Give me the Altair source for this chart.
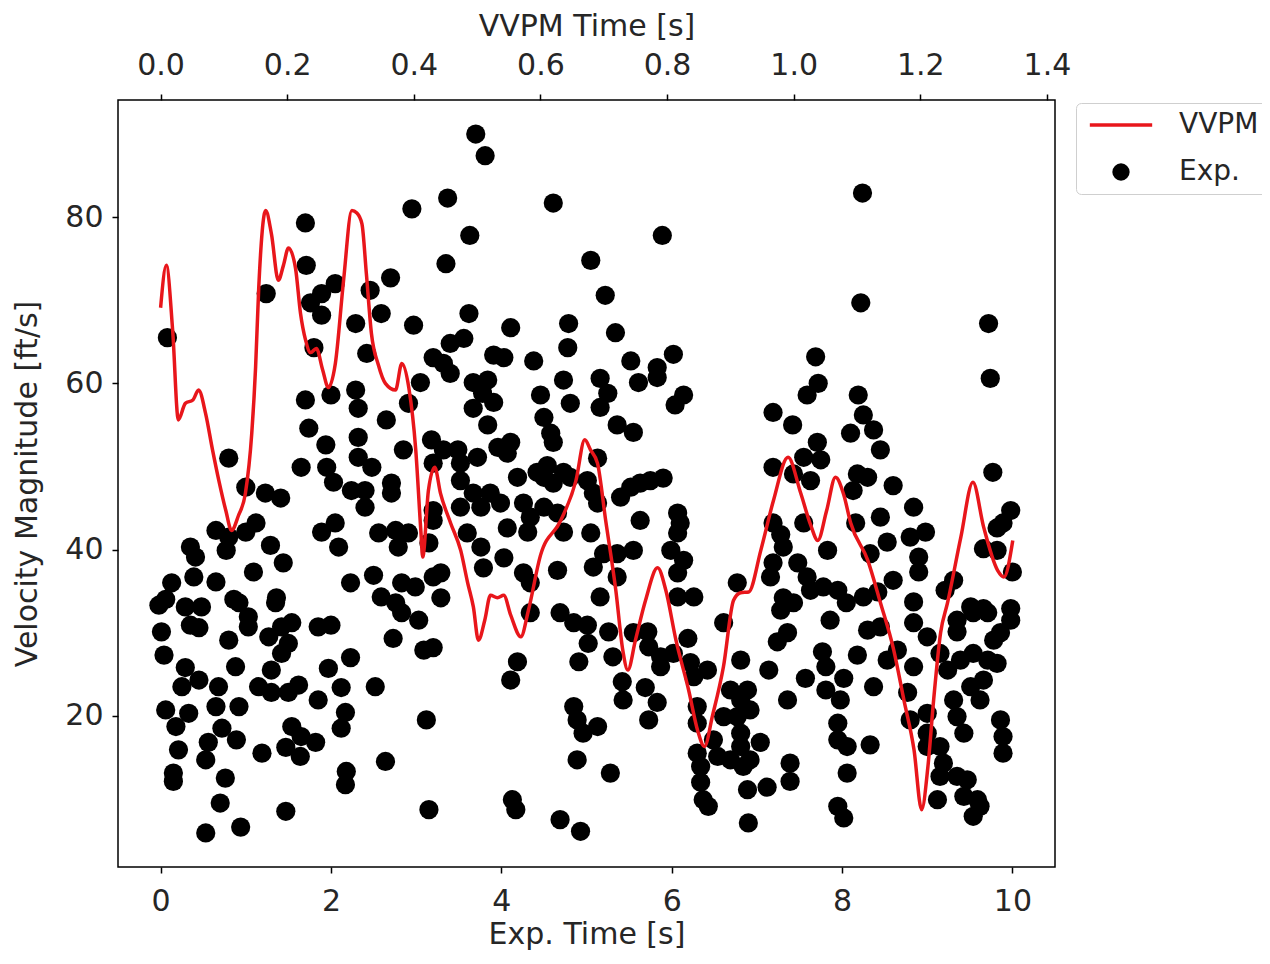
import altair as alt
import pandas as pd

# ---------------- Experimental points (Exp. Time [s], Velocity [ft/s]) ----------------
exp_low_left = [
    (0.01,30.1),(0.04,27.3),(0.29,25.8),(0.25,23.5),(0.45,24.3),(0.68,23.5),(0.06,20.7),(0.33,20.3),
    (0.18,18.7),(0.21,15.9),(0.56,16.8),(0.53,14.7),(0.65,21.1),(0.72,18.5),(0.92,21.1),(0.89,17.1),
    (1.19,15.5),(0.15,13.1),(0.15,12.1),(0.76,12.5),(0.70,9.5),(0.53,5.9),(0.94,6.6),(1.47,8.5),
    (-0.02,33.3),(0.29,33.1),(0.48,33.1),(0.35,30.9),(0.45,30.6),(0.80,29.1),(0.88,25.9),(0.92,33.6),
    (1.03,31.9),(1.03,30.7),(1.35,33.6),(1.27,29.5),(1.42,30.7),(1.54,31.2),(1.50,28.7),(1.42,27.5),
    (1.30,25.5),(1.15,23.5),(1.30,22.8),(1.50,22.8),(1.62,23.7),(1.85,30.7),(2.00,30.9),(1.85,21.9),
    (1.97,25.7),(2.23,27.0),(2.12,23.4),(2.17,20.4),(2.12,18.5),(1.54,18.7),(1.65,17.5),(1.82,16.8),
    (1.47,16.2),(1.64,15.1),(2.52,23.5),(2.64,14.5),(2.18,13.3),(2.17,11.7),(3.12,19.5),(3.15,8.7),
    (2.73,29.3),(3.09,27.9),(2.83,32.4),(3.03,31.5),
]
exp_top = [
    (0.08,65.5),(1.70,79.3),(1.71,74.2),(1.24,70.8),(2.05,72.0),(1.89,70.8),(1.76,69.7),(1.89,68.2),
    (2.29,67.2),(2.46,71.2),(2.70,72.7),(2.59,68.4),(2.97,67.0),(2.95,81.0),(1.80,64.3),(2.42,63.6),
    (3.20,63.1),(3.37,82.3),(3.35,74.4),(3.70,90.0),(3.81,87.4),(4.61,81.7),(3.63,77.8),(5.05,74.8),
    (5.89,77.8),(5.22,70.6),(3.62,68.4),(3.56,65.4),(3.40,64.8),(4.11,66.7),(4.79,67.2),(4.78,64.3),
    (5.34,66.1),(6.02,63.5),(5.52,62.7),(4.38,62.7),(8.24,82.9),(8.22,69.7),(9.72,67.2),(7.69,63.2),
]
exp_mid_left = [
    (1.70,58.0),(2.00,58.6),(2.29,59.2),(2.32,57.0),(1.74,54.6),(1.94,52.6),(2.32,53.5),(2.65,55.6),
    (1.65,49.9),(1.95,49.9),(2.03,48.1),(2.32,51.1),(2.48,49.9),(2.24,47.1),(2.40,47.1),(2.71,48.0),
    (2.71,46.8),(2.40,45.1),(2.85,52.0),(3.05,60.1),(2.91,57.6),(3.18,53.2),(0.80,51.0),(1.00,47.5),
    (1.23,46.8),(1.41,46.2),(0.65,42.3),(0.80,41.5),(1.12,43.2),(1.00,42.1),(0.35,40.3),(0.41,39.1),
    (0.77,39.9),(1.29,40.5),(1.44,38.4),(1.09,37.3),(0.65,36.1),(0.39,36.7),(0.13,36.0),(0.06,34.0),
    (0.86,34.0),(1.36,34.2),(1.89,42.1),(2.05,43.2),(2.09,40.3),(2.56,42.0),(2.76,42.3),(2.91,42.0),
    (2.79,40.3),(3.15,40.8),(2.23,36.0),(2.50,36.9),(2.83,36.0),(2.99,35.5),(3.20,36.7),(3.20,43.5),
    (2.59,34.3),(2.76,33.6),
]
exp_mid_center = [
    (3.32,62.4),(3.40,61.2),(3.91,63.4),(4.03,63.1),(3.67,60.1),(3.84,60.4),(3.78,58.8),(3.67,57.0),
    (3.91,57.7),(4.46,58.6),(4.73,60.4),(4.81,57.6),(5.16,60.6),(5.25,58.8),(5.16,57.1),(5.83,61.9),
    (5.61,60.1),(5.83,60.7),(6.14,58.6),(6.04,57.4),(4.50,55.9),(4.58,54.0),(4.61,52.9),(5.36,55.0),
    (5.55,54.1),(3.84,55.0),(3.32,52.0),(3.49,52.0),(3.52,50.4),(3.72,51.1),(3.96,52.3),(4.11,52.9),
    (4.07,51.6),(3.20,50.4),(4.19,48.7),(4.42,49.3),(4.54,50.1),(4.73,49.3),(4.81,48.7),(4.61,48.0),
    (4.50,48.7),(5.13,51.0),(5.01,48.3),(5.08,46.8),(5.13,45.6),(3.52,48.3),(3.67,46.8),(3.87,46.8),
    (3.99,45.6),(3.76,45.1),(3.52,45.1),(3.20,44.7),(4.26,45.6),(4.34,43.9),(4.50,45.1),(4.66,44.4),
    (4.07,42.6),(4.31,42.1),(4.73,42.1),(5.05,42.0),(3.60,42.0),(3.76,40.3),(4.03,39.0),(3.79,37.8),
    (3.29,37.2),(3.29,34.2),(4.26,37.2),(4.34,36.0),(4.66,37.5),(5.16,34.3),(5.20,39.5),(5.36,39.5),
    (5.08,37.9),(5.36,36.7),(5.55,39.9),(5.40,46.3),(5.52,47.5),(5.63,48.0),(5.75,48.3),(5.90,48.6),
    (5.63,43.5),(6.07,44.4),(6.10,43.2),(6.07,42.0),(5.99,39.9),(6.14,38.7),(6.07,37.2),(6.26,34.3),
    (6.07,34.3),(6.77,36.0),
]
exp_mid_right = [
    (7.72,60.0),(7.59,58.6),(7.19,56.5),(7.42,55.0),(8.19,58.6),(8.25,56.2),(8.37,54.4),(8.10,54.0),
    (8.45,52.0),(7.71,52.9),(7.55,51.1),(7.75,50.8),(7.19,49.9),(7.43,49.1),(7.63,48.3),(8.18,49.1),
    (8.30,48.7),(8.13,47.1),(8.60,47.7),(9.74,60.6),(9.77,49.3),(9.98,44.7),(9.89,43.2),(9.82,42.6),
    (9.66,40.1),(9.82,39.9),(10.0,37.3),(8.84,45.1),(8.98,42.1),(8.80,41.5),(8.45,43.9),(8.53,40.9),
    (8.16,43.2),(8.33,39.5),(8.90,39.1),(8.90,37.3),(8.60,36.3),(8.42,34.9),(8.84,33.7),(7.55,43.2),
    (7.19,43.2),(7.28,41.8),(7.83,39.9),(7.31,40.3),(7.19,38.4),(7.48,38.4),(7.16,36.7),(7.59,36.7),
    (7.63,35.1),(7.78,35.5),(7.95,35.1),(7.31,34.2),(7.43,33.6),(8.05,33.6),(8.25,34.3),(9.31,36.3),
    (9.21,35.1),(9.51,33.1),(9.66,32.9),(9.98,32.9),
]
exp_low_center = [
    (3.20,28.2),(4.19,26.5),(4.11,24.3),(4.34,32.4),(4.69,32.4),(4.85,31.2),(5.01,30.9),(5.02,28.7),
    (4.91,26.5),(5.26,30.1),(5.31,27.1),(5.55,30.0),(5.72,30.1),(5.73,28.3),(5.87,27.1),(5.87,25.9),
    (6.19,29.3),(6.22,26.4),(6.26,24.7),(6.02,27.5),(5.42,24.1),(5.43,21.9),(5.69,23.4),(5.83,21.6),
    (5.73,19.5),(4.85,21.1),(4.89,19.5),(4.96,17.9),(5.13,18.7),(4.89,14.7),(5.28,13.1),(4.13,9.9),
    (4.17,8.7),(4.69,7.5),(4.93,6.1),(6.61,31.2),(6.81,26.7),(6.42,25.5),(6.30,21.1),(6.30,19.1),
    (6.30,15.5),(6.34,13.9),(6.34,12.0),(6.37,9.9),(6.43,9.1),(6.54,15.1),(6.69,14.7),(6.69,23.1),
    (6.81,21.9),(6.77,19.9),(6.81,17.9),(6.81,16.3),(6.84,13.9),(6.89,11.1),(6.90,7.1),(6.61,19.9),
    (6.49,17.1),
]
exp_low_right = [
    (7.28,32.7),(7.86,31.5),(7.36,30.0),(7.24,28.9),(7.14,25.5),(7.57,24.5),(7.77,27.7),(7.81,25.9),
    (8.02,24.5),(7.81,23.1),(7.98,21.9),(8.18,27.3),(7.36,21.9),(6.89,23.1),(6.92,20.7),(7.04,16.8),
    (6.92,14.7),(7.12,11.4),(7.39,14.3),(7.39,12.1),(7.95,19.1),(7.95,17.1),(8.06,16.3),(8.06,13.1),
    (7.95,9.1),(8.02,7.7),(8.33,16.5),(8.30,30.3),(8.45,30.7),(8.84,31.2),(8.53,26.7),(8.37,23.5),
    (8.65,27.9),(8.84,25.9),(8.77,22.8),(8.80,19.5),(9.00,29.5),(9.15,27.5),(9.24,25.5),(9.39,26.7),
    (9.54,27.5),(9.71,26.7),(9.82,26.3),(9.66,24.3),(9.51,23.5),(9.62,21.9),(9.31,21.9),(9.35,19.9),
    (9.43,17.9),(9.00,20.3),(9.00,17.9),(9.00,16.3),(9.15,16.3),(9.19,14.3),(9.15,12.7),(9.12,9.9),
    (9.35,12.7),(9.47,12.3),(9.43,10.3),(9.59,9.9),(9.54,7.9),(9.62,9.1),(9.86,19.5),(9.89,17.5),
    (9.89,15.5),(9.98,31.5),(9.86,30.0),(9.78,29.1),(9.35,31.5),(9.54,32.4),(9.71,32.4),(9.35,30.1),
]

# ---------------- VVPM simulation line (VVPM Time [s], Velocity [ft/s]) ----------------
vvpm_time = [
    0.0,0.009,0.019,0.028,0.039,0.051,0.060,0.071,0.082,0.092,
    0.103,0.112,0.123,0.134,0.144,0.150,0.155,0.166,0.175,0.186,
    0.194,0.202,0.213,0.221,0.229,0.237,0.246,0.256,0.265,0.276,
    0.289,0.302,0.310,0.318,0.325,0.333,0.344,0.355,0.371,0.381,
    0.392,0.403,0.411,0.414,0.423,0.433,0.442,0.458,0.474,0.485,
    0.494,0.502,0.512,0.521,0.532,0.542,0.553,0.569,0.581,0.600,
    0.632,0.656,0.670,0.679,0.690,0.703,0.719,0.730,0.738,0.750,
    0.766,0.785,0.798,0.814,0.834,0.848,0.859,0.872,0.889,0.905,
    0.916,0.929,0.948,0.968,0.991,1.011,1.027,1.038,1.052,1.066,
    1.079,1.090,1.117,1.137,1.158,1.174,1.190,1.202,1.212,1.221,
    1.232,1.243,1.264,1.283,1.300,1.322,1.332,1.346,
]
vvpm_vel = [
    69.1,74.2,66.4,55.6,57.6,58.0,59.2,56.4,52.0,48.3,
    44.7,42.3,44.1,46.8,54.0,61.9,71.5,80.8,78.0,72.4,
    74.2,76.3,73.9,68.4,65.2,63.7,64.2,61.6,59.5,62.4,
    72.4,80.8,80.5,79.2,73.2,66.0,62.2,60.0,59.2,62.4,
    59.5,52.0,42.3,39.1,47.1,49.9,46.8,43.2,39.9,36.0,
    33.1,29.1,31.5,34.5,34.2,34.5,32.1,29.5,32.7,39.3,
    43.5,48.3,53.2,52.0,50.4,43.5,35.1,27.9,25.5,29.1,
    33.9,37.8,35.1,29.1,23.1,18.3,16.3,20.1,25.9,33.9,
    34.8,34.9,39.9,45.9,51.1,46.8,42.9,41.1,44.7,48.7,
    46.6,43.2,38.7,33.6,27.9,21.9,15.9,8.7,13.9,21.9,
    30.0,33.6,41.5,48.1,42.7,37.5,36.7,41.1,
]

series_names = ["VVPM", "Exp."]
series_colors = ["#e8161b", "#000000"]
exp_ticks = [0, 2, 4, 6, 8, 10]
vvpm_ticks = [0.0, 0.2, 0.4, 0.6, 0.8, 1.0, 1.2, 1.4]
vel_ticks = [20, 40, 60, 80]

exp_points = (exp_low_left + exp_top + exp_mid_left + exp_mid_center +
              exp_mid_right + exp_low_center + exp_low_right)
exp_df = pd.DataFrame(exp_points, columns=["t", "v"])
exp_df["series"] = "Exp."
line_df = pd.DataFrame({"t": vvpm_time, "v": vvpm_vel})
line_df["series"] = "VVPM"

FONT = "DejaVu Sans"
TXT = "#262626"
LINE_SYMBOL = "M-3.6,-0.19L3.6,-0.19L3.6,0.19L-3.6,0.19Z"

y_scale = alt.Scale(domain=[1.8, 94.1], nice=False, zero=False)
y_axis = alt.Axis(title="Velocity Magnitude [ft/s]", values=vel_ticks,
                  labelPadding=9, titlePadding=22)

legend = alt.Legend(
    title=None, orient="none", legendX=958, legendY=3,
    labelFont=FONT, labelFontSize=28, labelColor=TXT,
    symbolSize=300, symbolOffset=23, labelOffset=44, symbolStrokeWidth=0,
    symbolOpacity=1, padding=8, rowPadding=19,
    strokeColor="#cfcfcf", fillColor="white", cornerRadius=5,
)

points = alt.Chart(exp_df).mark_point(filled=True, size=370, opacity=1, strokeWidth=0).encode(
    x=alt.X("t:Q", scale=alt.Scale(domain=[-0.5, 10.5], nice=False, zero=False),
            axis=alt.Axis(orient="bottom", title="Exp. Time [s]", values=exp_ticks,
                          format="d", labelPadding=13, titlePadding=3)),
    y=alt.Y("v:Q", scale=y_scale, axis=y_axis),
    color=alt.Color("series:N", scale=alt.Scale(domain=series_names, range=series_colors), legend=legend),
    shape=alt.Shape("series:N", scale=alt.Scale(domain=series_names, range=[LINE_SYMBOL, "circle"]), legend=legend),
)

line = alt.Chart(line_df).mark_line(color=series_colors[0], strokeWidth=3.5, interpolate="monotone").encode(
    x=alt.X("t:Q", scale=alt.Scale(domain=[-0.0673, 1.4127], nice=False, zero=False),
            axis=alt.Axis(orient="top", title="VVPM Time [s]", values=vvpm_ticks,
                          format=".1f", labelPadding=14, titlePadding=9)),
    y=alt.Y("v:Q", scale=y_scale, axis=y_axis),
)

chart = alt.layer(points, line).resolve_scale(x="independent").properties(
    width=937, height=767,
    autosize=alt.AutoSizeParams(type="none"),
    padding={"left": 110, "top": 92, "right": 207, "bottom": 88},
).configure_view(stroke="black", strokeWidth=1.5).configure_axis(
    labelFont=FONT, titleFont=FONT, labelFontSize=30, titleFontSize=30,
    titleFontWeight="normal", labelColor=TXT, titleColor=TXT,
    tickColor="black", tickWidth=1.5, tickSize=6, domain=False, grid=False,
)

chart.save("out.html", embed_options={"renderer": "svg", "actions": False})
